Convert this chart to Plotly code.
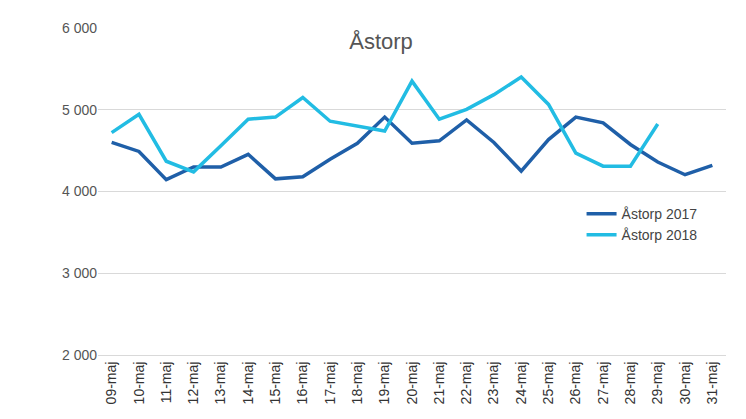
import plotly.graph_objects as go

days = [f"{d:02d}-maj" for d in range(9, 32)]
astorp_2017 = [4600, 4490, 4145, 4300, 4300, 4455, 4155, 4180, 4395, 4590, 4910, 4590,
               4620, 4875, 4600, 4250, 4635, 4910, 4840, 4575, 4360, 4205, 4320]
astorp_2018 = [4720, 4945, 4370, 4240, 4560, 4885, 4910, 5150, 4860, 4800, 4740, 5350,
               4885, 5005, 5185, 5400, 5065, 4470, 4310, 4310, 4825]

fig = go.Figure()
fig.add_trace(go.Scatter(x=days, y=astorp_2017, mode="lines", name="Åstorp 2017",
                         line=dict(color="#1f5fa8", width=3.5)))
fig.add_trace(go.Scatter(x=days[:len(astorp_2018)], y=astorp_2018, mode="lines", name="Åstorp 2018",
                         line=dict(color="#22bce3", width=3.5)))

fig.update_layout(
    width=746, height=419, paper_bgcolor="white", plot_bgcolor="white",
    margin=dict(l=90, r=28, t=13, b=72),
    font=dict(family="Liberation Sans, Arial", size=14, color="#444"),
    title=dict(text="Åstorp", x=0.5, xanchor="center", y=0.92, yanchor="middle",
               font=dict(size=22, color="#555")),
    legend=dict(x=0.77, y=0.48, xanchor="left", yanchor="top", bgcolor="rgba(0,0,0,0)",
                font=dict(size=14, color="#444"), tracegroupgap=10),
    showlegend=True,
    separators=", ",
)
fig.update_xaxes(tickangle=-90, showgrid=False, showline=True, linecolor="#d9d9d9",
                 range=[-0.5, len(days) - 0.5], ticks="", tickfont=dict(size=14, color="#333"))
fig.update_yaxes(range=[2000, 6000], dtick=1000, tickformat=",d",
                 showgrid=True, gridcolor="#d9d9d9", zeroline=False, ticks="",
                 tickfont=dict(size=14, color="#555"))

fig.write_html("out.html")
